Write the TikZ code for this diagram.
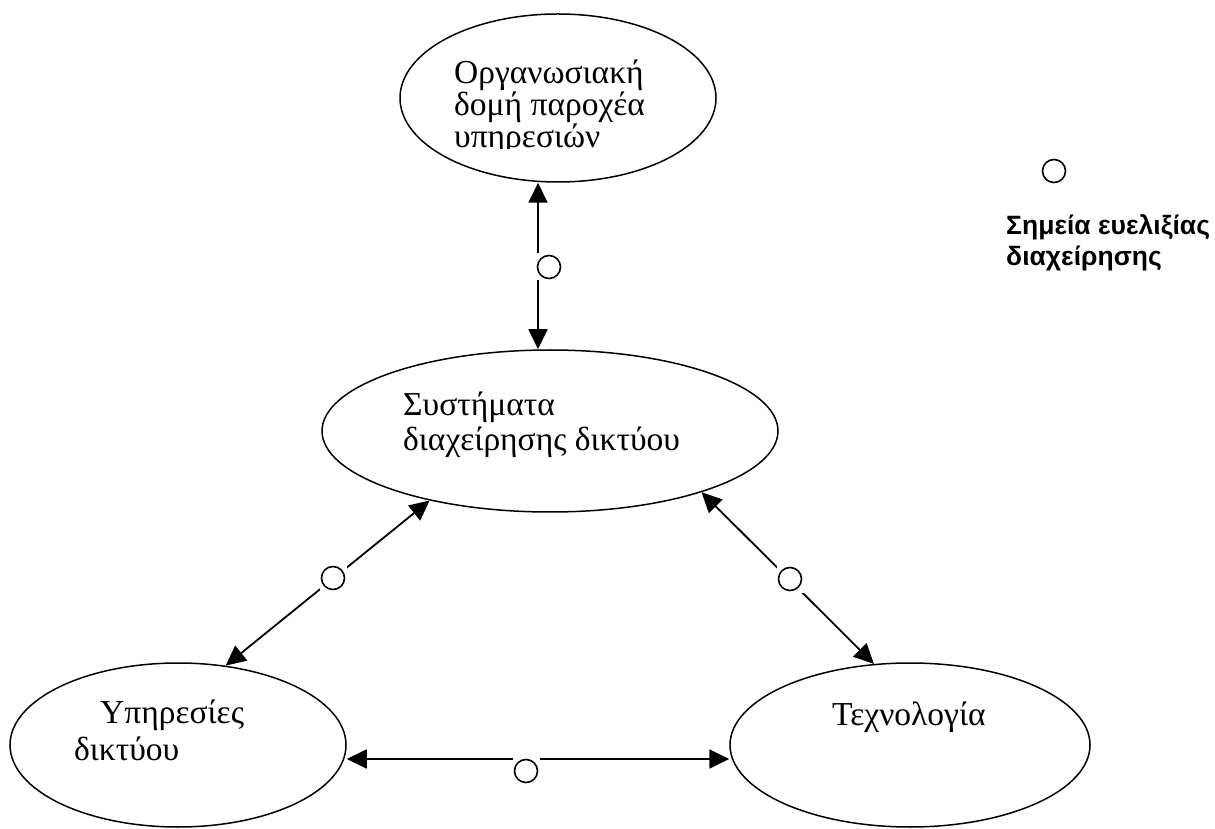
\documentclass[tikz,border=0pt]{standalone}
\usepackage{fontspec}
\setmainfont{Liberation Serif}
\newfontfamily\legendfont{Liberation Sans}
\usetikzlibrary{arrows.meta,shapes.geometric}

% stacked lines with a fixed baseline distance; the block's baseline is that of its first line
\newcommand\stackedlines[2]{\vtop{\baselineskip=#1\lineskiplimit=-100pt\lineskip=0pt\relax #2}}

\tikzset{
  oval/.style={ellipse, draw, line width=1.5pt, inner sep=0pt},
  hd/.tip={Triangle[length=20pt,width=19pt]},
  conn/.style={line width=1.8pt, hd-hd},
  txt/.style={inner sep=0pt, anchor=base west, font=\fontsize{33.5}{35}\selectfont},
  legendtxt/.style={inner sep=0pt, anchor=base west, font=\legendfont\bfseries\fontsize{26.5}{31}\selectfont},
  marker/.style={rectangle, fill=white, minimum size=27pt, inner sep=0pt,
    path picture={\draw[line width=1.6pt] (path picture bounding box.center) circle[radius=11.5pt];}}
}

\begin{document}
\begin{tikzpicture}[x=1pt,y=1pt]
\useasboundingbox (0,0) rectangle (1215,828);

% the four areas
\node[oval, minimum width=316pt, minimum height=168pt] (org)  at (558,730) {};
\node[oval, minimum width=456pt, minimum height=162pt] (nms)  at (550,397) {};
\node[oval, minimum width=336pt, minimum height=164pt] (svc)  at (178,83) {};
\node[oval, minimum width=360pt, minimum height=164pt] (tech) at (910,83) {};

% their labels (the first one is cut off by its frame)
\begin{scope}
  \clip (0,679.5) rectangle (1215,828);
  \node[txt] (orgtext) at (454,744)
    {\stackedlines{32pt}{\hbox{Οργανωσιακή}\hbox{δομή παροχέα}\hbox{υπηρεσιών}}};
\end{scope}
\node[txt] (nmstext) at (403,412)
  {\stackedlines{35pt}{\hbox{Συστήματα}\hbox{διαχείρησης δικτύου}}};
\node[txt] (svctext) at (74,105)
  {\stackedlines{37pt}{\hbox{\hspace{26pt}Υπηρεσίες}\hbox{δικτύου}}};
\node[txt] (techtext) at (832,103) {Τεχνολογία};

% relations between the areas
\draw[conn] ([xshift=-20pt]org.south) -- ([xshift=-12pt]nms.north);
\draw[conn] (nms.210) -- (svc.59);
\draw[conn] (nms.338) -- (tech.114);
\draw[conn] ([yshift=-14pt]svc.east) -- ([yshift=-14pt]tech.west);

% management flexibility points
\node[marker] (m1) at (549,561) {};
\node[marker] (m2) at (333,250) {};
\node[marker] (m3) at (790,249) {};
\node[marker] (m4) at (526,57) {};

% legend
\node[marker] (legmark) at (1054,657) {};
\node[legendtxt] (legtext) at (1006,593)
  {\stackedlines{31pt}{\hbox{Σημεία ευελιξίας}\hbox{διαχείρησης}}};
\end{tikzpicture}
\end{document}
